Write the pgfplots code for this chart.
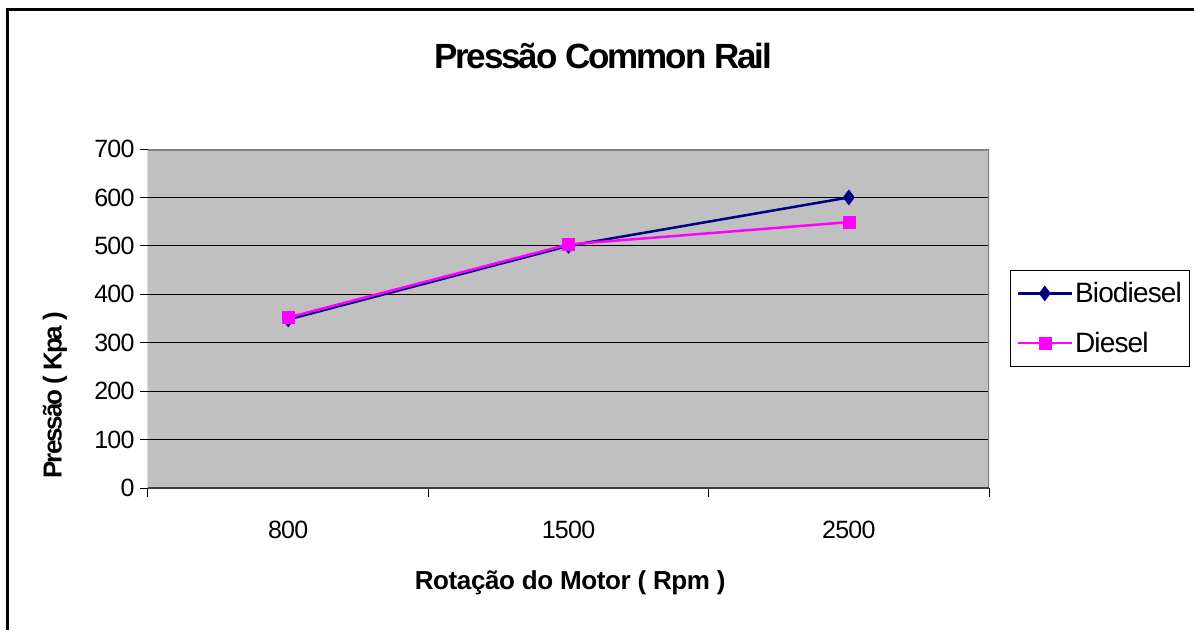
\documentclass[border=0pt]{standalone}
\usepackage{fontspec}
\setmainfont{Liberation Sans}
\newfontfamily\cfont{Liberation Sans}[LetterSpace=-6]
\newfontfamily\xfont{Liberation Sans}[LetterSpace=-1.5]
\newfontfamily\yfont{Liberation Sans}[LetterSpace=-8]
\newfontfamily\lfont{Liberation Sans}[LetterSpace=-3]
\usepackage{pgfplots}
\pgfplotsset{compat=1.18}
\definecolor{plotgray}{RGB}{192,192,192}
\definecolor{bordergray}{RGB}{128,128,128}
\definecolor{navyb}{RGB}{0,0,128}
\definecolor{mag}{RGB}{255,0,255}
\begin{document}
\begin{tikzpicture}[x=1pt,y=1pt]
\path[use as bounding box] (0,0) rectangle (1194,630);
\draw[line width=3pt] (7,0) -- (7,620) -- (1196,620);
\node[font=\cfont\bfseries\fontsize{35}{40}\selectfont] at (603,574) {Pressão Common Rail};
\begin{axis}[
  at={(148pt,142pt)}, anchor=south west,
  scale only axis, width=841pt, height=339pt,
  xmin=0, xmax=3, ymin=0, ymax=700,
  axis background/.style={fill=plotgray},
  axis line style={draw=none},
  ytick={0,100,...,700},
  /pgf/number format/assume math mode=true,
  ymajorgrids, grid style={black, line width=1pt},
  xtick={0.5,1.5,2.5}, xticklabels={800,1500,2500},
  minor xtick={0,1,2,3},
  major x tick style={draw=none},
  minor x tick style={black, line width=1pt},
  y tick style={black, line width=1pt},
  tick align=outside, major tick length=8pt, minor tick length=9pt,
  xtick pos=bottom, ytick pos=left,
  tick label style={font=\lfont\fontsize{25}{30}\selectfont},
  xticklabel style={yshift=-22pt},
  yticklabel style={xshift=-2pt},
  xlabel={Rotação do Motor ( Rpm )},
  ylabel={Pressão ( Kpa )},
  xlabel style={font=\xfont\bfseries\fontsize{26}{30}\selectfont, at={(axis description cs:0.502,-0.28)}, anchor=center},
  ylabel style={font=\yfont\bfseries\fontsize{26}{30}\selectfont, at={(axis description cs:-0.1106,0.274)}, anchor=center, rotate=0},
  legend style={at={(axis description cs:1.025,0.643)}, anchor=north west,
    draw=black, line width=1pt, fill=white,
    font=\lfont\fontsize{28}{32}\selectfont,
    row sep=24pt, inner xsep=6pt, inner ysep=10pt},
  legend cell align=left,
  legend image code/.code={\draw[#1, mark repeat=2, mark phase=2] plot coordinates {(0pt,0pt) (27pt,0pt) (54pt,0pt)};},
]
\addplot[navyb, line width=2.5pt, mark=diamond*, mark size=7.5pt, mark options={fill=navyb, draw=navyb, line width=0.5pt}]
  coordinates {(0.5,348) (1.5,500) (2.5,600)};
\addlegendentry{Biodiesel}
\addplot[mag, line width=2.5pt, mark=square*, mark size=6pt, mark options={fill=mag, draw=mag, line width=0.5pt}]
  coordinates {(0.5,352) (1.5,503) (2.5,549)};
\addlegendentry{Diesel}
\draw[bordergray, line width=3pt] (rel axis cs:0,1) -- (rel axis cs:1,1) -- (rel axis cs:1,0);
\draw[black!75, line width=2.5pt] (rel axis cs:0,0) -- (rel axis cs:1,0);
\draw[black, line width=1pt] (rel axis cs:0,0) -- (rel axis cs:0,1);
\end{axis}
\end{tikzpicture}
\end{document}
